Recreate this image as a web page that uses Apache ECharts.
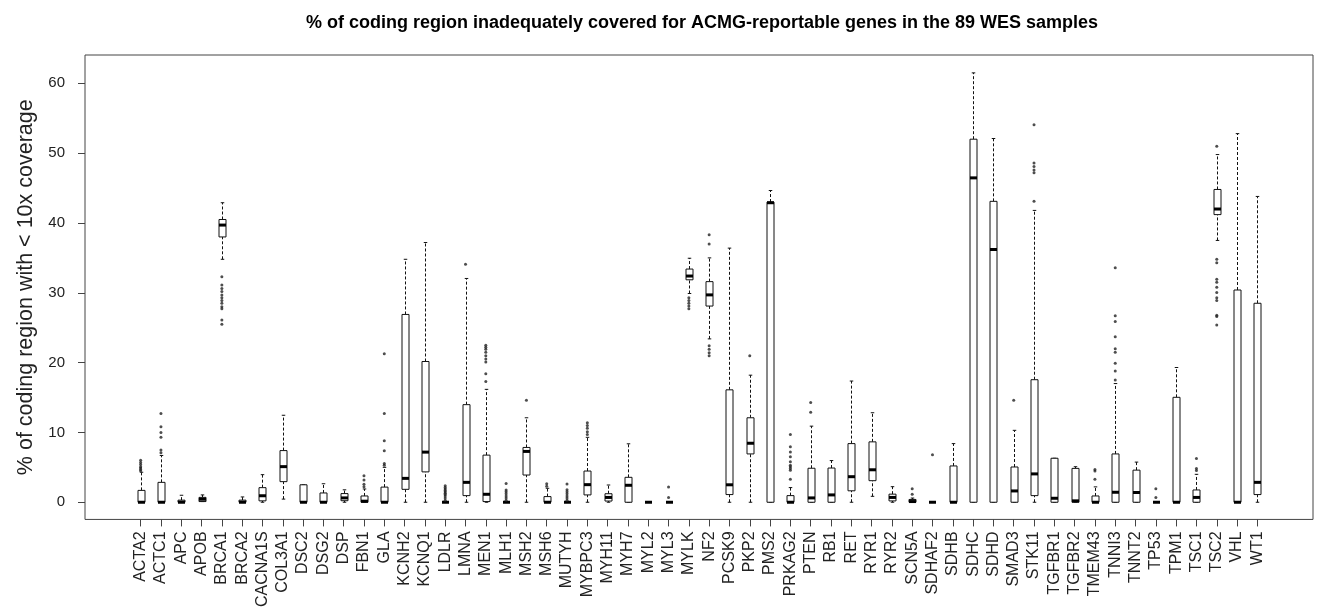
<!DOCTYPE html>
<html><head><meta charset="utf-8">
<script src="https://cdn.jsdelivr.net/npm/echarts@6/dist/echarts.min.js"></script>
<style>html,body{margin:0;padding:0;background:#fff}#c{width:1317px;height:610px}</style>
</head><body><div id="c"></div>
<script>
const genes = ["ACTA2","ACTC1","APC","APOB","BRCA1","BRCA2","CACNA1S","COL3A1","DSC2","DSG2","DSP","FBN1","GLA","KCNH2","KCNQ1","LDLR","LMNA","MEN1","MLH1","MSH2","MSH6","MUTYH","MYBPC3","MYH11","MYH7","MYL2","MYL3","MYLK","NF2","PCSK9","PKP2","PMS2","PRKAG2","PTEN","RB1","RET","RYR1","RYR2","SCN5A","SDHAF2","SDHB","SDHC","SDHD","SMAD3","STK11","TGFBR1","TGFBR2","TMEM43","TNNI3","TNNT2","TP53","TPM1","TSC1","TSC2","VHL","WT1"];
const lowerWhisker = [0,0,0,0.1,34.8,0,0,0.45,0,0,0,0,0,0,0,0,0,0,0,0,0,0,0,0,0,0,0,29.9,23.4,0,0,0,0,0,0,0,0.85,0,0,0,0,0,0,0,0,0,0,0,0,0,0,0,0,37.5,0,0];
const q1 = [0,0,0,0.1,38.0,0,0.2,2.95,0,0,0.22,0,0,1.85,4.35,0,0.95,0.1,0,3.9,0,0,1.05,0.17,0,0,0,31.86,28.1,1.1,6.92,0,0,0,0,1.64,3.09,0.19,0,0,0,0,0,0,0.95,0,0,0,0,0,0,0,0,41.2,0,1.1];
const median = [0,0,0,0.43,39.7,0,0.93,5.1,0,0,0.62,0.15,0,3.42,7.18,0,2.85,1.14,0,7.28,0,0,2.52,0.69,2.43,0,0,32.4,29.7,2.5,8.45,42.9,0,0.62,1.05,3.66,4.65,0.69,0.1,0,0,46.46,36.2,1.62,4.06,0.57,0.2,0,1.43,1.4,0,0,0.69,42.0,0,2.85];
const q3 = [1.7,2.85,0.3,0.7,40.5,0.3,2.09,7.4,2.5,1.33,1.24,0.9,2.17,26.9,20.16,0,13.98,6.75,0,7.85,0.81,0,4.47,1.22,3.57,0,0,33.4,31.6,16.1,12.1,43.0,0.95,4.87,4.9,8.4,8.65,1.16,0.4,0,5.2,52.0,43.1,5.05,17.55,6.3,4.85,0.9,6.92,4.6,0,15.03,1.76,44.8,30.4,28.5];
const upperWhisker = [4.3,6.7,1.0,1.05,42.9,0.76,3.95,12.46,2.5,2.65,1.78,1.9,5.0,34.8,37.2,0,32.05,16.17,0,12.1,2.0,0,9.3,2.47,8.37,0,0,34.95,35.0,36.4,18.2,44.65,2.1,10.9,5.97,17.36,12.82,2.23,0.6,0,8.4,61.5,52.1,10.3,41.8,6.3,5.09,2.2,17.0,5.75,0,19.3,4.0,49.8,52.8,43.8];
const outliers = [
  [4.5,4.7,4.9,5.1,5.4,5.7,6.0],
  [7.1,7.5,9.3,10.0,10.8,12.7],
  [],[],
  [32.3,31.1,30.6,30.2,29.7,29.3,28.9,28.5,28.0,27.7,26.1,25.5],
  [],[],[],[],[],[],
  [2.23,2.57,3.19,3.8],
  [5.3,5.56,7.37,8.8,12.7,21.26],
  [],[],
  [0.3,0.6,0.9,1.1,1.3,1.5,1.7,1.9,2.1,2.38],
  [34.1],
  [17.3,18.4,20.1,20.5,21.0,21.5,21.9,22.2,22.5],
  [0.3,0.6,0.9,1.2,1.5,1.76,2.68],
  [14.6],
  [2.3,2.65],
  [0.3,0.6,0.9,1.2,1.5,1.8,2.6],
  [9.7,10.1,10.6,11.0,11.4],
  [],[],[],
  [0.67,2.2],
  [29.3,28.9,28.5,28.1,27.7],
  [38.3,37.0,22.4,21.9,21.4,21.0],
  [],
  [21.0],
  [],
  [3.28,4.6,4.85,5.1,5.3,5.8,6.5,7.2,7.94,9.7],
  [12.9,14.3],
  [],[],[],[],
  [1.14,1.95],
  [6.8],
  [],[],[],
  [14.6],
  [43.1,47.2,47.6,48.1,48.6,54.07],
  [],[],
  [3.28,4.47,4.7],
  [17.5,18.8,19.9,21.5,22.0,23.7,25.9,26.7,33.6],
  [],
  [0.67,1.95],
  [],
  [4.55,4.85,6.28],
  [51.0,34.8,34.3,31.95,31.5,30.8,30.05,29.3,28.9,26.8,26.6,25.4],
  [],[]
];
const yTicks = [0,10,20,30,40,50,60];
const titleText = "% of coding region inadequately covered for ACMG-reportable genes in the 89 WES samples";
const yName = "% of coding region with < 10x coverage";

const xPos = genes.map((g, i) => i + 1);
const boxData = genes.map((g, i) => [i + 1, lowerWhisker[i], q1[i], median[i], q3[i], upperWhisker[i]]);
const outData = [];
outliers.forEach((arr, i) => arr.forEach(v => outData.push([i + 1, v])));

const FONT = "'Liberation Sans', Arial, Helvetica, sans-serif";
const INK = '#111';

function renderBox(params, api) {
  const x = api.value(0);
  const lo = api.coord([x, api.value(1)]);
  const b1 = api.coord([x, api.value(2)]);
  const md = api.coord([x, api.value(3)]);
  const b3 = api.coord([x, api.value(4)]);
  const hi = api.coord([x, api.value(5)]);
  const cx = Math.round(lo[0]) + 0.5;
  const hw = 3.5, cw = 1.75;
  const dash = { stroke: INK, lineWidth: 1, lineDash: [3, 2], fill: null };
  const solid = { stroke: INK, lineWidth: 1, fill: null };
  return {
    type: 'group',
    children: [
      { type: 'line', shape: { x1: cx, y1: b3[1], x2: cx, y2: hi[1] }, style: dash },
      { type: 'line', shape: { x1: cx, y1: lo[1], x2: cx, y2: b1[1] }, style: dash },
      { type: 'line', shape: { x1: cx - cw, y1: hi[1], x2: cx + cw, y2: hi[1] }, style: solid },
      { type: 'line', shape: { x1: cx - cw, y1: lo[1], x2: cx + cw, y2: lo[1] }, style: solid },
      { type: 'rect', shape: { x: cx - hw, y: b3[1], width: 2 * hw, height: b1[1] - b3[1] }, style: { fill: '#fff', stroke: INK, lineWidth: 1 } },
      { type: 'line', shape: { x1: cx - hw, y1: md[1], x2: cx + hw, y2: md[1] }, style: { stroke: '#000', lineWidth: 3 } }
    ]
  };
}

const chart = echarts.init(document.getElementById('c'), null, { renderer: 'canvas' });
chart.setOption({
  animation: false,
  backgroundColor: '#fff',
  title: {
    text: titleText,
    left: 697, top: 9, textAlign: 'center',
    textStyle: { fontFamily: FONT, fontSize: 18, fontWeight: 'bold', color: '#000' }
  },
  grid: { left: 85, right: 4, top: 55, bottom: 89, show: true, borderColor: '#444', borderWidth: 1, backgroundColor: 'transparent' },
  xAxis: {
    type: 'value', min: -1.74, max: 58.74,
    axisLine: { show: false, onZero: false },
    splitLine: { show: false },
    axisTick: { show: true, length: 7, customValues: xPos, lineStyle: { color: '#444' } },
    axisLabel: {
      customValues: xPos, rotate: 90, margin: 12,
      formatter: v => genes[Math.round(v) - 1] || '',
      fontFamily: FONT, fontSize: 16, color: '#222'
    }
  },
  yAxis: {
    type: 'value', min: -2.46, max: 64.06,
    name: yName, nameLocation: 'middle', nameGap: 48, nameRotate: 90,
    nameTextStyle: { fontFamily: FONT, fontSize: 21.5, color: '#222' },
    axisLine: { show: false, onZero: false },
    splitLine: { show: false },
    axisTick: { show: true, length: 7, customValues: yTicks, lineStyle: { color: '#444' } },
    axisLabel: { customValues: yTicks, margin: 20, fontFamily: FONT, fontSize: 15, color: '#222' }
  },
  series: [
    { type: 'custom', renderItem: renderBox, data: boxData, encode: { x: 0, y: [1, 2, 3, 4, 5] }, z: 2 },
    { type: 'scatter', data: outData, symbol: 'circle', symbolSize: 3, itemStyle: { color: '#222' }, z: 3 }
  ]
});
</script></body></html>
